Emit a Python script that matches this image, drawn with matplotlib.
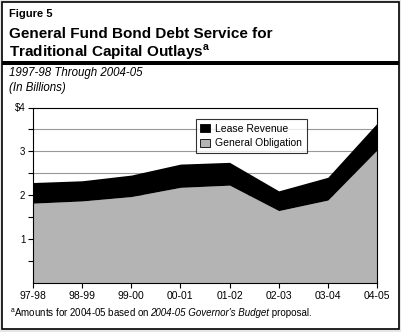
import matplotlib.pyplot as plt
from matplotlib.patches import Rectangle
import numpy as np

plt.rcParams['font.family'] = ['Liberation Sans', 'DejaVu Sans']

years = ['97-98', '98-99', '99-00', '00-01', '01-02', '02-03', '03-04', '04-05']
general_obligation = [1.82, 1.87, 1.97, 2.18, 2.23, 1.65, 1.89, 3.03]
lease_revenue = [0.47, 0.46, 0.49, 0.53, 0.52, 0.45, 0.52, 0.61]

W, H = 401, 332
fig = plt.figure(figsize=(W / 100, H / 100), dpi=100)
fig.patch.set_facecolor('#e6e6e6')

def fx(px):
    return px / W

def fy(py):
    return 1 - py / H

# white panel with border
fig.patches.append(Rectangle((fx(2), fy(329)), fx(397) - fx(0), fy(2) - fy(329),
                             transform=fig.transFigure, facecolor='white',
                             edgecolor='black', linewidth=1.2, zorder=-2))
# thick rule under title
fig.patches.append(Rectangle((fx(2), fy(65)), fx(397) - fx(0), fy(61.5) - fy(65),
                             transform=fig.transFigure, facecolor='black',
                             edgecolor='none', zorder=-1))

fig.text(fx(9), fy(14), 'Figure 5', fontsize=8, fontweight='bold', va='center')
fig.text(fx(9), fy(34), 'General Fund Bond Debt Service for', fontsize=11,
         fontweight='bold', va='center')
fig.text(fx(9), fy(52), r'Traditional Capital Outlays$^{\mathregular{a}}$', fontsize=11,
         fontweight='bold', va='center')
fig.text(fx(9), fy(73), '1997-98 Through 2004-05', fontsize=8.3, style='italic', va='center')
fig.text(fx(9), fy(88), '(In Billions)', fontsize=8.3, style='italic', va='center')

ax = fig.add_axes([fx(33), fy(283), fx(377) - fx(33), fy(107.5) - fy(283)], zorder=2)
x = np.arange(len(years))
go = np.array(general_obligation)
total = go + np.array(lease_revenue)
ax.fill_between(x, 0, go, color='#b4b4b4', linewidth=0, zorder=2, label='General Obligation')
ax.fill_between(x, go, total, color='black', linewidth=0, zorder=2, label='Lease Revenue')

ax.set_xlim(0, len(years) - 1)
ax.set_ylim(0, 4)
ax.set_yticks(np.arange(0.5, 4.01, 0.5))
ax.set_yticklabels(['', '1', '', '2', '', '3', '', '$4'])
ax.set_xticks(x)
ax.set_xticklabels(years)
ax.tick_params(axis='both', labelsize=7.5, length=3.5, width=0.8, direction='out', pad=2)
ax.tick_params(axis='y', labelsize=7)
for gy in np.arange(0.5, 3.6, 0.5):
    ax.axhline(gy, color='#999999', linewidth=0.8, zorder=1)
for s in ['left', 'bottom', 'top', 'right']:
    ax.spines[s].set_linewidth(0.8)

h, l = ax.get_legend_handles_labels()
leg = ax.legend(h[::-1], l[::-1], loc='upper left', bbox_to_anchor=(0.458, 0.965),
                fontsize=7.5, frameon=True, fancybox=False, edgecolor='black',
                handlelength=0.9, handleheight=0.8, handletextpad=0.5,
                borderpad=0.45, labelspacing=0.45)
leg.get_frame().set_linewidth(0.8)
for p in leg.get_patches():
    p.set_edgecolor('black')
    p.set_linewidth(0.6)

t0 = fig.text(fx(10), fy(313), r'$^{\mathregular{a}}$Amounts for 2004-05 based on ', fontsize=7, va='center')
fig.canvas.draw()
r = fig.canvas.get_renderer()
base = t0.get_window_extent(r)
t2 = fig.text(base.x1 / W, fy(313), "2004-05 Governor's Budget", fontsize=7,
              style='italic', va='center')
b2 = t2.get_window_extent(r)
fig.text(b2.x1 / W, fy(313), ' proposal.', fontsize=7, va='center')

fig.savefig('out.png', dpi=100, facecolor=fig.get_facecolor())
